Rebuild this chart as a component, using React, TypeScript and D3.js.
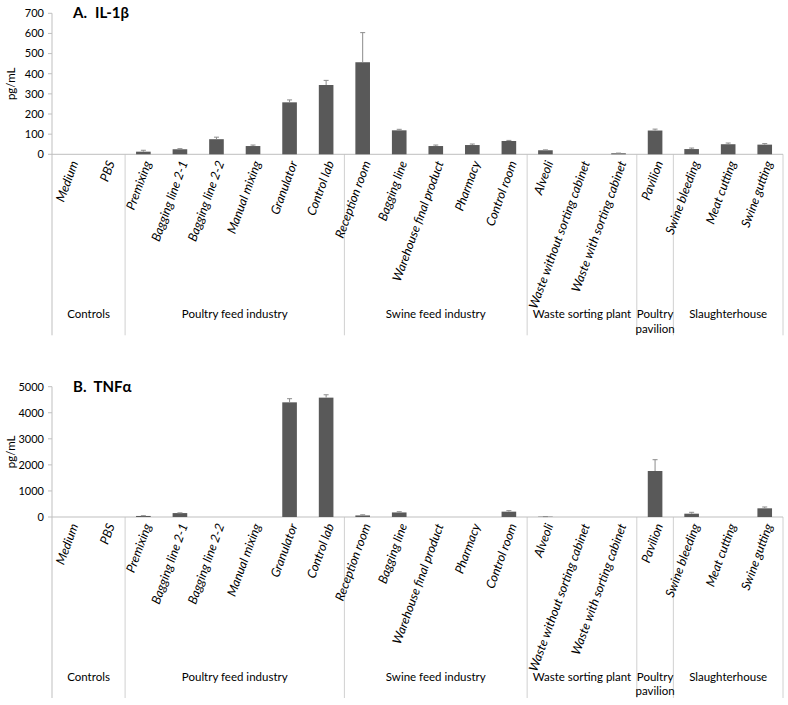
import React from "react";
import * as d3 from "d3";

const categories = [
  "Medium", "PBS",
  "Premixing", "Bagging line 2-1", "Bagging line 2-2", "Manual mixing", "Granulator", "Control lab",
  "Reception room", "Bagging line", "Warehouse final product", "Pharmacy", "Control room",
  "Alveoli", "Waste without sorting cabinet", "Waste with sorting cabinet",
  "Pavilion",
  "Swine bleeding", "Meat cutting", "Swine gutting",
];

const groupNames = [["Controls"], ["Poultry feed industry"], ["Swine feed industry"], ["Waste sorting plant"], ["Poultry", "pavilion"], ["Slaughterhouse"]];
const groupSizes = [2, 6, 5, 3, 1, 3];

const il1bValues = [0, 0, 13, 25, 75, 41, 258, 344, 457, 119, 41, 46, 66, 20, 0, 5, 118, 26, 50, 48];
const il1bErrors = [0, 0, 7, 3, 10, 5, 12, 23, 147, 5, 5, 5, 3, 2, 0, 1, 7, 5, 6, 5];
const il1bTicks = [0, 100, 200, 300, 400, 500, 600, 700];

const tnfValues = [0, 0, 40, 150, 0, 0, 4400, 4580, 60, 175, 0, 0, 205, 12, 0, 0, 1765, 127, 0, 333];
const tnfErrors = [0, 0, 10, 10, 0, 0, 140, 110, 25, 28, 0, 0, 38, 3, 0, 0, 434, 53, 0, 51];
const tnfTicks = [0, 1000, 2000, 3000, 4000, 5000];

const FONT = "Lato, 'Open Sans', sans-serif";
const X0 = 52;
const X1 = 783;

function Panel({ letter, name, values, errors, ticks, zeroY, topY }: any) {
  const x = d3.scaleBand<string>().domain(categories).range([X0, X1]).paddingInner(0.6).paddingOuter(0.3);
  const y = d3.scaleLinear().domain([0, ticks[ticks.length - 1]]).range([zeroY, topY]);
  const step = x.step();
  const bounds: number[] = [0];
  groupSizes.forEach((n, i) => bounds.push(bounds[i] + n));
  const labelY = zeroY + 160;
  const divEnd = zeroY + 181;
  return (
    <g>
      <text x={73} y={topY + 5} fontFamily={FONT} fontWeight="bold" fontSize={15} fill="#000">
        <tspan>{letter}</tspan>
        <tspan dx={8}>{name}</tspan>
      </text>
      <text transform={`translate(15,${(zeroY + topY) / 2}) rotate(-90)`} textAnchor="middle" fontFamily={FONT} fontSize={11.5} fill="#000">pg/mL</text>
      {ticks.map((t: number) => (
        <g key={t}>
          <line x1={X0 - 4} x2={X0} y1={y(t)} y2={y(t)} stroke="#bfbfbf" />
          <text x={X0 - 8} y={y(t)} dy="0.35em" textAnchor="end" fontFamily={FONT} fontSize={11} fill="#000">{t}</text>
        </g>
      ))}
      <line x1={X0} x2={X0} y1={topY} y2={divEnd} stroke="#bfbfbf" />
      {bounds.slice(1).map((b, i) => (
        <line key={i} x1={X0 + b * step} x2={X0 + b * step} y1={zeroY} y2={divEnd} stroke="#d0d0d0" />
      ))}
      <line x1={X0} x2={X1} y1={zeroY} y2={zeroY} stroke="#bfbfbf" />
      {categories.map((c, i) => {
        const v = values[i];
        const e = errors[i];
        const bx = x(c)!;
        const cx = bx + x.bandwidth() / 2;
        return (
          <g key={c}>
            {v > 0 && <rect x={bx} width={x.bandwidth()} y={y(v)} height={zeroY - y(v)} fill="#595959" />}
            {e > 0 && (
              <g stroke="#8c8c8c" strokeWidth={1}>
                <line x1={cx} x2={cx} y1={y(v)} y2={y(v + e)} />
                <line x1={cx - 2.5} x2={cx + 2.5} y1={y(v + e)} y2={y(v + e)} />
              </g>
            )}
            <text transform={`translate(${cx + 4},${zeroY + 7}) rotate(-70)`} textAnchor="end" dy="0.35em" fontFamily={FONT} fontStyle="italic" fontSize={12.5} fill="#000">{c}</text>
          </g>
        );
      })}
      {groupNames.map((g, i) => {
        const cx = X0 + ((bounds[i] + bounds[i + 1]) / 2) * step;
        return (
          <text key={i} x={cx} y={labelY} textAnchor="middle" fontFamily={FONT} fontSize={11.5} fill="#000">
            {g.map((line, j) => (
              <tspan key={j} x={cx} dy={j === 0 ? "0.35em" : "1.25em"}>{line}</tspan>
            ))}
          </text>
        );
      })}
    </g>
  );
}

export default function App() {
  return (
    <svg width={788} height={705} style={{ position: "absolute", left: 0, top: 0, background: "#fff" }}>
      <rect width={788} height={705} fill="#fff" />
      <Panel letter="A." name="IL-1β" values={il1bValues} errors={il1bErrors} ticks={il1bTicks} zeroY={154.3} topY={13.3} />
      <Panel letter="B." name="TNFα" values={tnfValues} errors={tnfErrors} ticks={tnfTicks} zeroY={517} topY={386.7} />
    </svg>
  );
}
